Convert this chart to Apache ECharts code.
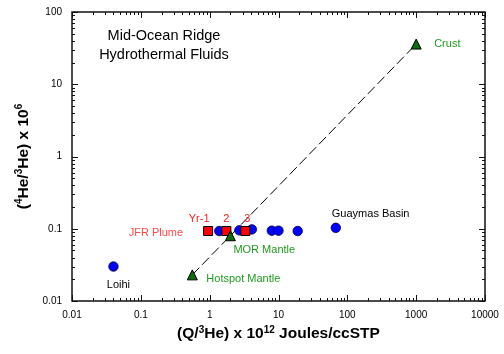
<!DOCTYPE html>
<html><head><meta charset="utf-8">
<script src="https://cdn.jsdelivr.net/npm/echarts@6/dist/echarts.min.js"></script>
<style>html,body{margin:0;padding:0;background:#fff}#c{width:504px;height:354px}</style>
</head><body><div id="c"></div>
<script>
const FONT = 'Liberation Sans, Arial, sans-serif';
// tick labels
const xTicks = [0.01, 0.1, 1, 10, 100, 1000, 10000];
const yTicks = [0.01, 0.1, 1, 10, 100];
// Blue circles: hydrothermal fluids
const blueX = [0.04, 1.38, 2.7, 4.1, 8, 10, 19, 68];
const blueY = [0.03, 0.093, 0.095, 0.098, 0.094, 0.094, 0.093, 0.103];
const blueNames = ['Loihi', '', '', '', '', '', '', 'Guaymas Basin'];
// Red squares: JFR plume
const redX = [0.95, 1.75, 3.3];
const redY = [0.093, 0.093, 0.093];
const redNames = ['Yr-1', '2', '3'];
// Green triangles: end members
const greenX = [0.56, 2, 1000];
const greenY = [0.023, 0.08, 36];
const greenNames = ['Hotspot Mantle', 'MOR Mantle', 'Crust'];
// Mixing line (hotspot mantle -> crust)
const lineX = [0.56, 1000];
const lineY = [0.023, 36];

const blueLbl = [{align:'center', offset:[5,18]}, null, null, null, null, null, null, {align:'left', offset:[-4,-14]}];
const redLbl = [{align:'center', offset:[-9,-12]}, {align:'center', offset:[0,-12]}, {align:'center', offset:[2,-12]}];
const greenLbl = [{align:'left', offset:[14,4]}, {align:'left', offset:[3,14]}, {align:'left', offset:[18,0]}];

function mk(xs, ys, names, lbls, color) {
  return xs.map((x, i) => {
    const d = {value: [x, ys[i]]};
    if (names[i]) {
      d.label = Object.assign({show: true, formatter: names[i], position: 'inside',
        verticalAlign: 'middle', color: color, fontSize: 11, fontFamily: FONT}, lbls[i]);
    }
    return d;
  });
}

const chart = echarts.init(document.getElementById('c'), null, {renderer: 'canvas'});
const fmt = v => String(+(+v).toPrecision(6));
const supStyle = {fontSize: 10, fontWeight: 'bold', fontFamily: FONT, color: '#000', verticalAlign: 'top', lineHeight: 12};
const baseStyle = {fontSize: 15.5, fontWeight: 'bold', fontFamily: FONT, color: '#000', lineHeight: 18};

chart.setOption({
  animation: false,
  backgroundColor: '#fff',
  grid: {left: 72, right: 19, top: 12, bottom: 53, show: true, borderColor: '#111', borderWidth: 1.5, backgroundColor: 'transparent'},
  graphic: [{type: 'text', x: 164, y: 26, style: {text: 'Mid-Ocean Ridge\nHydrothermal Fluids', textAlign: 'center',
    fontSize: 14.5, fontFamily: FONT, fill: '#000', lineHeight: 19}}],
  xAxis: {
    type: 'log', logBase: 10, min: xTicks[0], max: xTicks[xTicks.length - 1],
    axisLine: {show: false}, axisTick: {show: false}, splitLine: {show: false}, minorTick: {show: false},
    axisLabel: {formatter: fmt, fontSize: 10, fontFamily: FONT, color: '#000', margin: 9},
    name: '{a|(Q/}{s|3}{a|He) x 10}{s|12}{a| Joules/ccSTP}', nameLocation: 'middle', nameGap: 23,
    nameTextStyle: {rich: {a: baseStyle, s: supStyle}}
  },
  yAxis: {
    type: 'log', logBase: 10, min: yTicks[0], max: yTicks[yTicks.length - 1],
    axisLine: {show: false}, axisTick: {show: false}, splitLine: {show: false}, minorTick: {show: false},
    axisLabel: {formatter: fmt, fontSize: 10, fontFamily: FONT, color: '#000', margin: 10},
    name: '{a|(}{s|4}{a|He/}{s|3}{a|He) x 10}{s|6}', nameLocation: 'middle', nameGap: 38,
    nameTextStyle: {rich: {a: baseStyle, s: supStyle}}
  },
  series: [
    {
      type: 'custom', silent: true, z: 1, data: [[xTicks[0], yTicks[0]]],
      renderItem: function (params, api) {
        const cs = params.coordSys;
        const ch = [];
        const st = {stroke: '#111', lineWidth: 1};
        const seg = (x1, y1, x2, y2) => ch.push({type: 'line', shape: {x1, y1, x2, y2}, style: st});
        const bottom = cs.y + cs.height, top = cs.y, left = cs.x, right = cs.x + cs.width;
        for (let i = 0; i < xTicks.length; i++) {
          const steps = i < xTicks.length - 1 ? 9 : 1;
          for (let k = 1; k <= steps; k++) {
            const px = Math.round(api.coord([xTicks[i] * k, yTicks[0]])[0]) + 0.5;
            const L = k === 1 ? 6 : 3;
            seg(px, bottom, px, bottom - L);
            seg(px, top, px, top + L);
          }
        }
        for (let i = 0; i < yTicks.length; i++) {
          const steps = i < yTicks.length - 1 ? 9 : 1;
          for (let k = 1; k <= steps; k++) {
            const py = Math.round(api.coord([xTicks[0], yTicks[i] * k])[1]) + 0.5;
            const L = k === 1 ? 6 : 3;
            seg(left, py, left + L, py);
            seg(right, py, right - L, py);
          }
        }
        return {type: 'group', children: ch};
      }
    },
    {
      type: 'line', data: lineX.map((x, i) => [x, lineY[i]]), symbol: 'none', z: 2,
      lineStyle: {color: '#000', width: 1, type: [10, 4]}
    },
    {
      type: 'scatter', data: mk(blueX, blueY, blueNames, blueLbl, '#000'), symbol: 'circle', symbolSize: 9.5, z: 3,
      itemStyle: {color: '#0000ff', borderColor: '#00003a', borderWidth: 0.8, opacity: 1}
    },
    {
      type: 'scatter', data: mk(redX, redY, redNames, redLbl, '#ff1a1a'), symbol: 'rect', symbolSize: 9, z: 4,
      itemStyle: {color: '#ff0000', borderColor: '#000', borderWidth: 1, opacity: 1}
    },
    {
      type: 'scatter', data: mk([redX[0]], [redY[0]], ['JFR Plume'], [{align: 'right', offset: [-25, 2]}], '#ff1a1a'),
      symbol: 'circle', symbolSize: 1, z: 4, itemStyle: {color: 'rgba(0,0,0,0)'}
    },
    {
      type: 'scatter', data: mk(greenX, greenY, greenNames, greenLbl, '#1f9a1f'), symbol: 'triangle', symbolSize: 10, z: 5,
      itemStyle: {color: '#0a6e0a', borderColor: '#000', borderWidth: 1, opacity: 1}
    }
  ]
});
</script>
</body></html>
